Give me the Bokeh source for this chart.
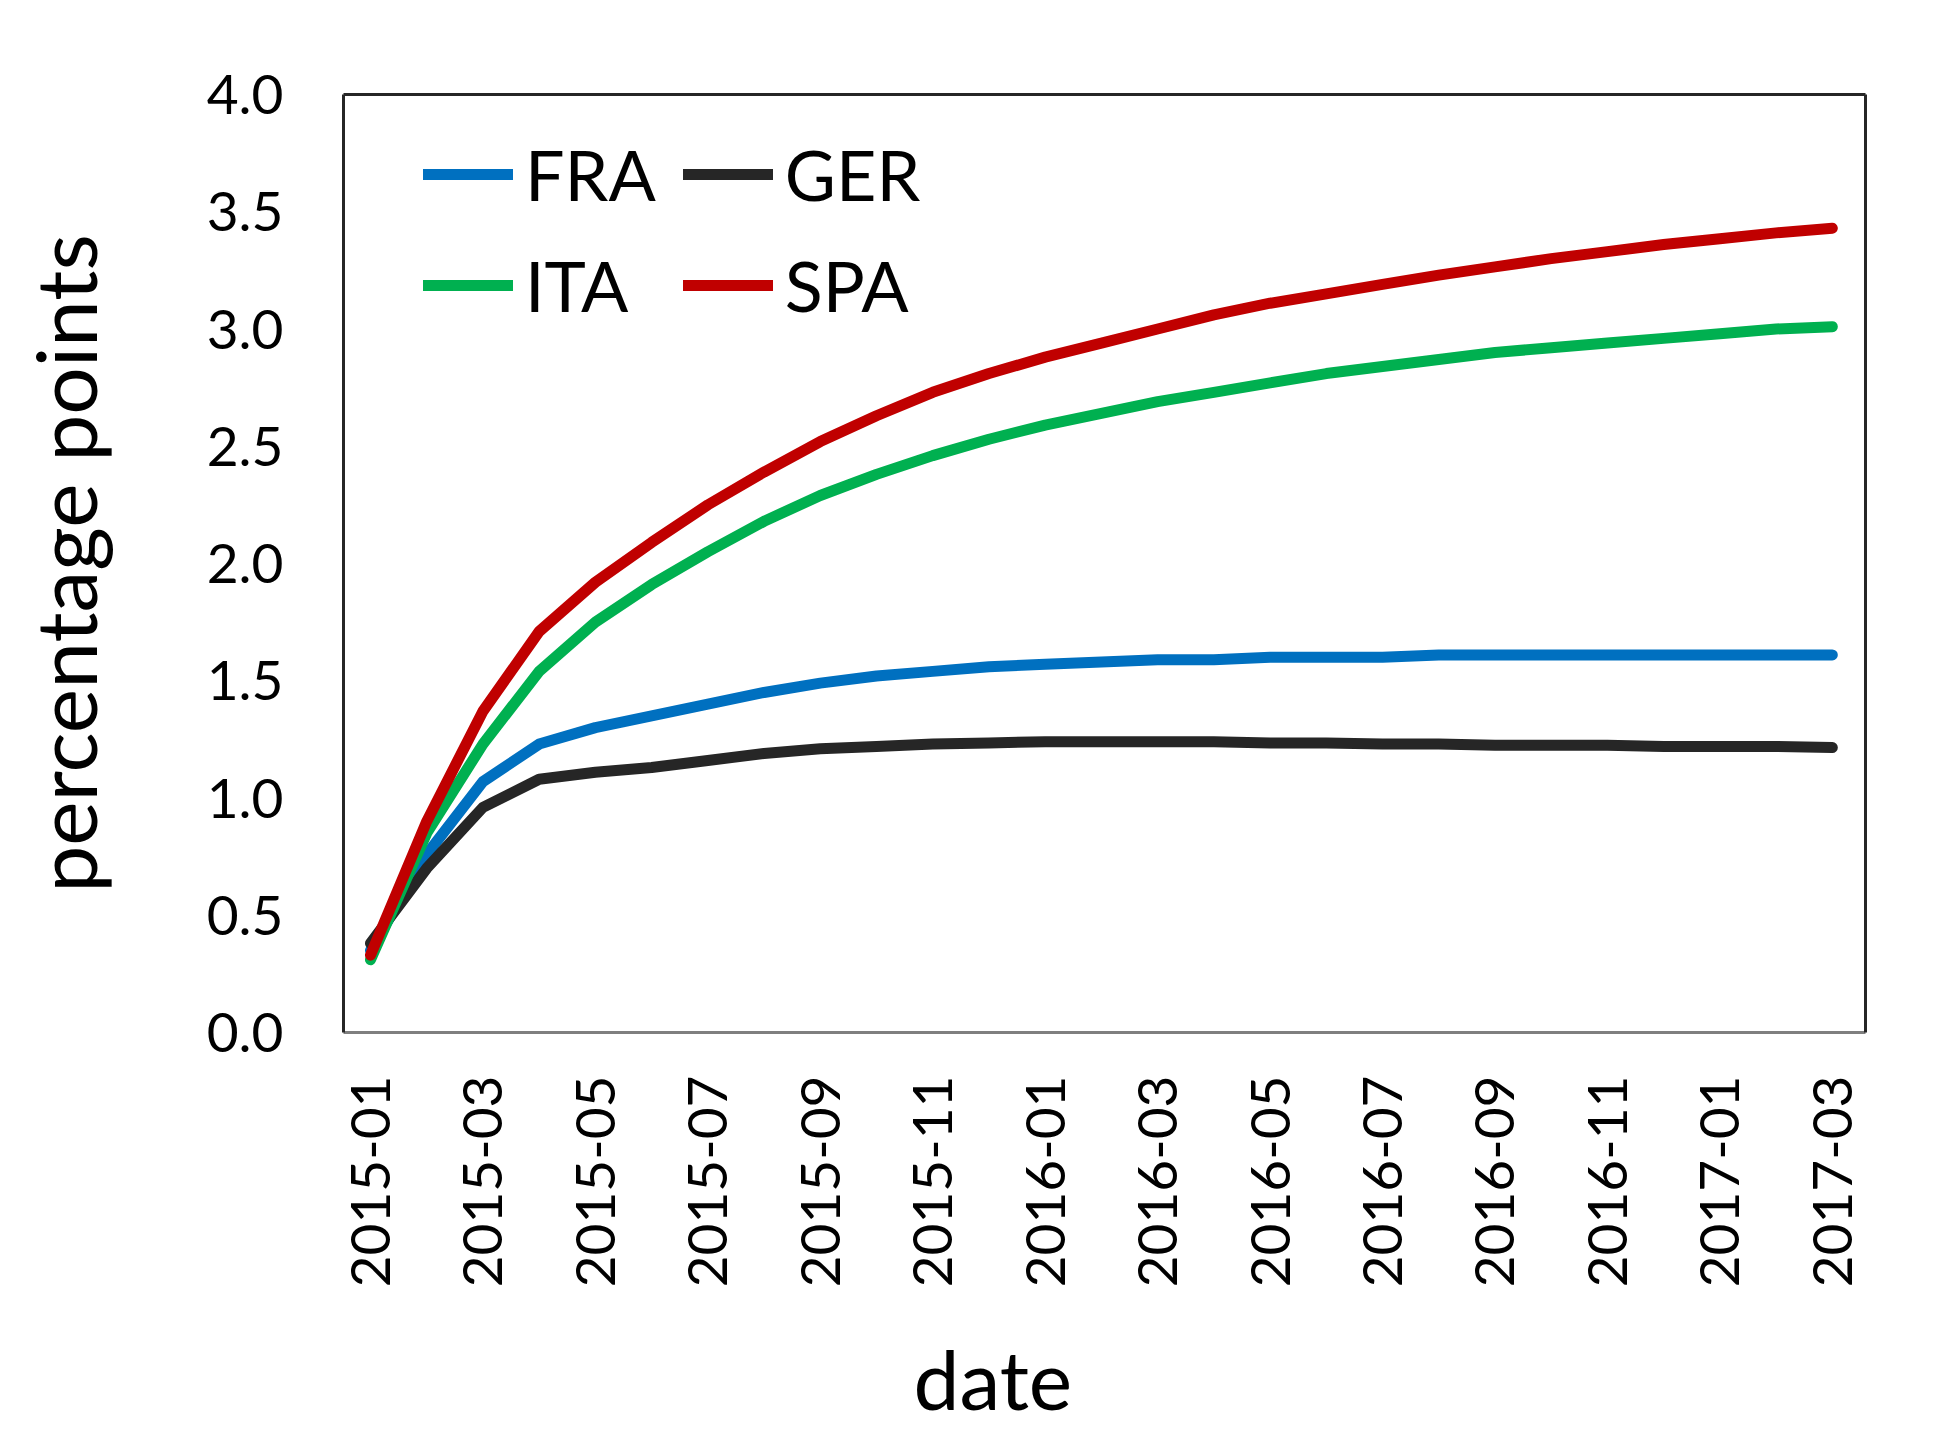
import math
from bokeh.plotting import figure
from bokeh.models import (Range1d, FixedTicker, LinearAxis, Legend, LegendItem,
                          Title, NumeralTickFormatter, ColumnDataSource)
from bokeh.embed import file_html
from bokeh.resources import INLINE

months = ["2015-01", "2015-02", "2015-03", "2015-04", "2015-05", "2015-06", "2015-07",
          "2015-08", "2015-09", "2015-10", "2015-11", "2015-12", "2016-01", "2016-02",
          "2016-03", "2016-04", "2016-05", "2016-06", "2016-07", "2016-08", "2016-09",
          "2016-10", "2016-11", "2016-12", "2017-01", "2017-02", "2017-03"]

FRA = [0.35, 0.76, 1.07, 1.23, 1.30, 1.35, 1.40, 1.45, 1.49, 1.52, 1.54, 1.56, 1.57, 1.58,
       1.59, 1.59, 1.60, 1.60, 1.60, 1.61, 1.61, 1.61, 1.61, 1.61, 1.61, 1.61, 1.61]
GER = [0.38, 0.70, 0.96, 1.08, 1.11, 1.13, 1.16, 1.19, 1.21, 1.22, 1.23, 1.235, 1.24, 1.24,
       1.24, 1.24, 1.235, 1.235, 1.23, 1.23, 1.225, 1.225, 1.225, 1.22, 1.22, 1.22, 1.215]
ITA = [0.31, 0.85, 1.23, 1.54, 1.75, 1.91, 2.05, 2.18, 2.29, 2.38, 2.46, 2.53, 2.59, 2.64,
       2.69, 2.73, 2.77, 2.81, 2.84, 2.87, 2.90, 2.92, 2.94, 2.96, 2.98, 3.00, 3.01]
SPA = [0.33, 0.90, 1.37, 1.71, 1.92, 2.09, 2.25, 2.39, 2.52, 2.63, 2.73, 2.81, 2.88, 2.94,
       3.00, 3.06, 3.11, 3.15, 3.19, 3.23, 3.265, 3.30, 3.33, 3.36, 3.385, 3.41, 3.43]

series = [("FRA", FRA, "#0070C0"), ("GER", GER, "#262626"),
          ("ITA", ITA, "#00B050"), ("SPA", SPA, "#C00000")]
legend_order = ["FRA", "ITA", "GER", "SPA"]   # column-major fill -> rows FRA GER / ITA SPA

y_ticks = [0.0, 0.5, 1.0, 1.5, 2.0, 2.5, 3.0, 3.5, 4.0]

FONT = "Lato"
idx = list(range(len(months)))
tick_idx = idx[::2]

p = figure(frame_width=1522, frame_height=938,
           x_range=Range1d(-0.48, 26.59), y_range=Range1d(0, 4),
           output_backend="svg", toolbar_location=None,
           min_border_left=343, min_border_top=94, min_border_right=65,
           min_border_bottom=404, background_fill_color="white",
           border_fill_color="white")
p.outline_line_color = None
p.xgrid.visible = False
p.ygrid.visible = False

renderers = {}
for name, vals, col in series:
    src = ColumnDataSource(dict(x=idx, y=vals))
    r = p.line("x", "y", source=src, line_color=col, line_width=11,
               line_cap="round", line_join="round")
    renderers[name] = r

# x axis
xa = p.xaxis[0]
xa.ticker = FixedTicker(ticks=tick_idx)
xa.major_label_overrides = {i: months[i] for i in tick_idx}
xa.major_label_orientation = math.pi / 2
xa.major_tick_line_color = None
xa.minor_tick_line_color = None
xa.major_label_standoff = 37
xa.major_label_text_font = FONT
xa.major_label_text_font_size = "55px"
xa.major_label_text_color = "black"
xa.axis_line_color = "#7F7F7F"
xa.axis_line_width = 3

# y axis
ya = p.yaxis[0]
ya.ticker = FixedTicker(ticks=y_ticks)
ya.formatter = NumeralTickFormatter(format="0.0")
ya.major_tick_line_color = None
ya.minor_tick_line_color = None
ya.major_label_standoff = 54
ya.major_label_text_font = FONT
ya.major_label_text_font_size = "55px"
ya.major_label_text_color = "black"
ya.axis_line_color = "#262626"
ya.axis_line_width = 3
ya.axis_label = "percentage points"
ya.axis_label_text_font = FONT
ya.axis_label_text_font_size = "84px"
ya.axis_label_text_font_style = "normal"
ya.axis_label_text_color = "black"
ya.axis_label_standoff = 89

# frame top and right
for side in ("above", "right"):
    ax = LinearAxis(ticker=FixedTicker(ticks=[]), major_label_text_font_size="0px",
                    axis_line_color="#262626", axis_line_width=3,
                    major_tick_line_color=None, minor_tick_line_color=None)
    p.add_layout(ax, side)

# x label as title below
t = Title(text="date", align="left", offset=570, text_font=FONT,
          text_font_size="82px", text_font_style="normal", text_color="black",
          standoff=72)
p.add_layout(t, "below")

legend = Legend(items=[LegendItem(label=n, renderers=[renderers[n]]) for n in legend_order],
                ncols=2, location=(80, 705), glyph_width=90, glyph_height=80,
                label_height=80, label_standoff=12, spacing=27, padding=0, margin=0,
                border_line_color=None, background_fill_alpha=0,
                label_text_font=FONT, label_text_font_size="70px",
                label_text_color="black")
p.add_layout(legend, "center")

open("out.html", "w").write(file_html(p, INLINE))
